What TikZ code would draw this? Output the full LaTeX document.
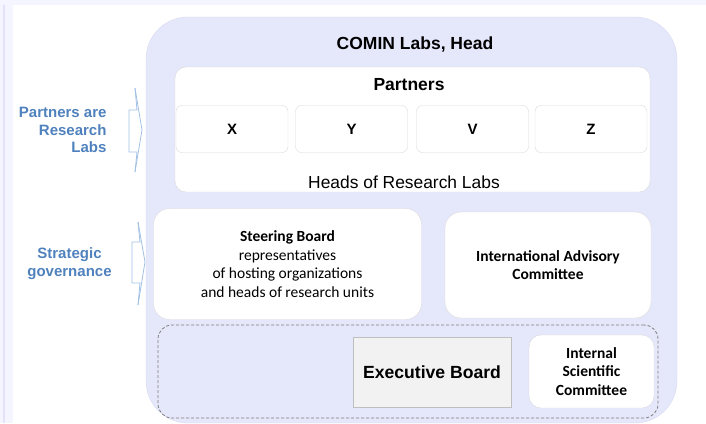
\documentclass[tikz,border=0pt]{standalone}
\usepackage{fontspec}
\setmainfont{Liberation Sans}
\newfontfamily\calibri{Carlito}
\usepackage{tikz}

\definecolor{paleband}{RGB}{245,245,255}
\definecolor{edgeline}{RGB}{226,226,248}
\definecolor{lavender}{RGB}{229,231,250}
\definecolor{lavedge}{RGB}{216,219,242}
\definecolor{boxgray}{RGB}{218,218,224}
\definecolor{labblue}{RGB}{79,129,189}
\definecolor{bracketblue}{RGB}{160,192,228}

\tikzset{
  whitebox/.style={draw=boxgray, fill=white, inner sep=0pt},
  labbox/.style={whitebox, rounded corners=6pt, minimum width=112pt, minimum height=47pt,
    font=\bfseries\fontsize{15}{17}\selectfont},
  boardbox/.style={whitebox, rounded corners=16pt, align=center,
    font=\calibri\fontsize{15.5}{18.7}\selectfont},
  sidelabel/.style={text=labblue, font=\bfseries\fontsize{15}{17.5}\selectfont},
  bracket/.style={draw=bracketblue, line width=0.8pt, line join=round}
}

\begin{document}
\begin{tikzpicture}[x=1pt,y=-1pt]
   \useasboundingbox (0,0) rectangle (706,423);
   \fill[paleband] (0,0) rectangle (706,5);
   \fill[paleband] (0,0) rectangle (13,423);
   \fill[edgeline] (3,5) rectangle (5,423);

   % COMIN Labs head
   \node[draw=lavedge, fill=lavender, rounded corners=42pt, minimum width=531pt,
     minimum height=406pt] (head) at (411.5,220) {};
   \node[font=\bfseries\fontsize{17.5}{19}\selectfont] (headtitle) at (415,45) {COMIN Labs, Head};

   % partners
   \node[whitebox, rounded corners=11pt, minimum width=475pt, minimum height=125pt] (partners) at (412.5,129.5) {};
   \node[font=\bfseries\fontsize{17.5}{19}\selectfont] (partnerstitle) at (409,85) {Partners};
   \node[labbox] (labx) at (232,129) {X};
   \node[labbox] (laby) at (351.5,129) {Y};
   \node[labbox] (labv) at (472.5,129) {V};
   \node[labbox] (labz) at (591,129) {Z};
   \node[font=\fontsize{17.4}{19}\selectfont] (heads) at (404,182) {Heads of Research Labs};

   % governance
   \node[boardbox, minimum width=268pt, minimum height=111pt] (steering) at (287.5,264)
     {\textbf{Steering Board}\\ representatives\\ of hosting organizations\\ and heads of research units};
   \node[boardbox, minimum width=206pt, minimum height=106pt] (advisory) at (548,265)
     {\textbf{International Advisory}\\ \textbf{Committee}};

   % executive level
   \node[draw=black!50, dashed, line width=0.8pt, dash pattern=on 3pt off 2pt, rounded corners=14pt,
     minimum width=500pt, minimum height=93pt] (execlevel) at (408,371.5) {};
   \node[draw=black!25, fill=black!5, minimum width=158pt, minimum height=70pt,
     font=\bfseries\fontsize{17.6}{19}\selectfont] (exec) at (432,372) {Executive Board};
   \node[boardbox, rounded corners=12pt, minimum width=125pt, minimum height=73pt,
     font=\calibri\bfseries\fontsize{15.5}{18.7}\selectfont] (internal) at (591.5,371.5)
     {Internal\\ Scientific\\ Committee};

   % side labels
   \node[sidelabel, align=right, anchor=east] (partnerslab) at (110,130) {Partners are\\ Research\\ Labs};
   \node[sidelabel, align=center] (strategiclab) at (69.5,263.5) {Strategic\\ governance};
   \draw[bracket] (135,88) -- (137,110) -- (129,110) -- (129,152) -- (137,152) -- (135,172);
   \draw[bracket] (135,88) -- (142,130) -- (135,172);
   \draw[bracket] (138,222) -- (140,242) -- (132,242) -- (132,283) -- (140,283) -- (138,305);
   \draw[bracket] (138,222) -- (145,262) -- (138,305);
\end{tikzpicture}
\end{document}
